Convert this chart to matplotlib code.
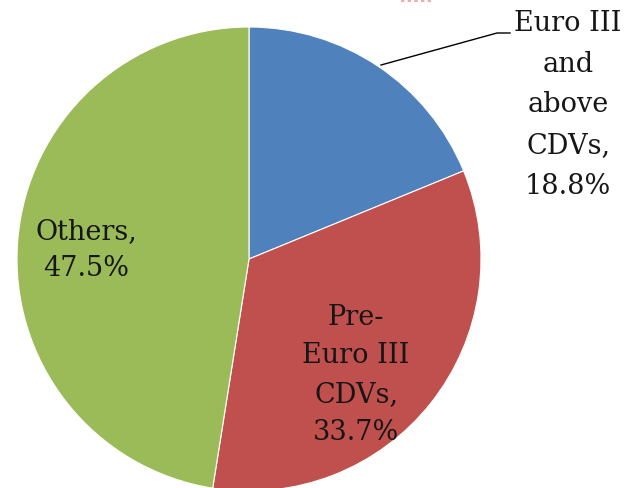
import matplotlib
matplotlib.use('Agg')
import matplotlib.pyplot as plt

labels = ['Euro III\nand\nabove\nCDVs,\n18.8%', 'Pre-\nEuro III\nCDVs,\n33.7%', 'Others,\n47.5%']
shares = [18.8, 33.7, 47.5]
colors = ['#4F81BD', '#C0504D', '#9BBB59']

fig = plt.figure(figsize=(6.36, 4.88), dpi=100)
ax = fig.add_axes([0, 0, 1, 1])

ax.pie(shares, colors=colors, startangle=90, counterclock=False,
       center=(249, 229), radius=232, frame=True,
       wedgeprops=dict(edgecolor='white', linewidth=0.8))
ax.set_xlim(0, 636)
ax.set_ylim(0, 488)
ax.set_aspect('equal')
ax.axis('off')

font = dict(family='DejaVu Serif', fontsize=19.5, color='#161616', ha='center', va='center')
ax.text(568, 383, labels[0], linespacing=1.65, **font)
ax.text(356, 113, labels[1], linespacing=1.55, **font)
ax.text(86, 238, labels[2], linespacing=1.5, **font)

# leader line for the first label
ax.plot([381, 497, 510], [423, 455, 455], color='black', lw=1)

# bit of a red underline cut off at the top edge
ax.plot([401, 432], [487.2, 487.2], color='#e87070', lw=1.2, ls=(0, (2, 2)), alpha=0.7)

fig.savefig('out.png', dpi=100)
